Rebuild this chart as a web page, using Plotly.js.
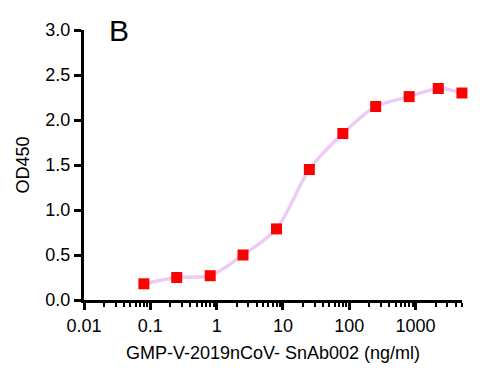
<!DOCTYPE html>
<html>
<head>
<meta charset="utf-8">
<script src="https://cdn.plot.ly/plotly-3.0.1.min.js"></script>
<style>html,body{margin:0;padding:0;background:#fff;}#chart{width:500px;height:372px;}</style>
</head>
<body>
<div id="chart"></div>
<script>
const concentration = [0.08, 0.25, 0.8, 2.5, 8, 25, 80, 250, 800, 2200, 5000];
const od450 = [0.18, 0.25, 0.27, 0.50, 0.79, 1.45, 1.85, 2.15, 2.26, 2.35, 2.30];
const xTickVals = [0.01, 0.1, 1, 10, 100, 1000];
const xTickText = ["0.01", "0.1", "1", "10", "100", "1000"];
const yTickVals = [0, 0.5, 1, 1.5, 2, 2.5, 3];
const yTickText = ["0.0", "0.5", "1.0", "1.5", "2.0", "2.5", "3.0"];

const font = "Liberation Sans, Arial, sans-serif";

Plotly.newPlot("chart", [
  {
    x: concentration, y: od450, type: "scatter", mode: "lines",
    line: {color: "#ecccf4", width: 3.5, shape: "spline", smoothing: 0.8},
    hoverinfo: "skip", showlegend: false, cliponaxis: false
  },
  {
    x: concentration, y: od450, type: "scatter", mode: "markers",
    marker: {symbol: "square", size: 11, color: "#ff0000"},
    showlegend: false, cliponaxis: false
  }
], {
  width: 500, height: 372,
  margin: {l: 84, r: 38, t: 30, b: 72},
  paper_bgcolor: "#fff", plot_bgcolor: "#fff",
  font: {family: font, color: "#000", size: 18},
  xaxis: {
    type: "log", range: [-2, 3.7],
    tickvals: xTickVals, ticktext: xTickText,
    ticks: "outside", ticklen: 7, tickwidth: 3, tickcolor: "#000",
    showline: true, linewidth: 3, linecolor: "#000",
    showgrid: false, zeroline: false,
    tickfont: {size: 18, family: font},
    minor: {ticks: "outside", ticklen: 4, tickwidth: 2, tickcolor: "#000", showgrid: false, dtick: "D1"},
    title: {text: "GMP-V-2019nCoV- SnAb002 (ng/ml)", font: {size: 18, family: font}, standoff: 12}
  },
  yaxis: {
    range: [0, 3],
    tickvals: yTickVals, ticktext: yTickText,
    ticks: "outside", ticklen: 7, tickwidth: 3, tickcolor: "#000",
    showline: true, linewidth: 3, linecolor: "#000",
    showgrid: false, zeroline: false,
    tickfont: {size: 18, family: font},
    title: {text: "OD450", font: {size: 18, family: font}, standoff: 12}
  },
  annotations: [{
    text: "B", xref: "paper", yref: "paper", x: 0.062, y: 1.0,
    xanchor: "left", yanchor: "middle", showarrow: false,
    font: {size: 30, family: font, color: "#000"}
  }]
}, {displayModeBar: false, staticPlot: true});
</script>
</body>
</html>
